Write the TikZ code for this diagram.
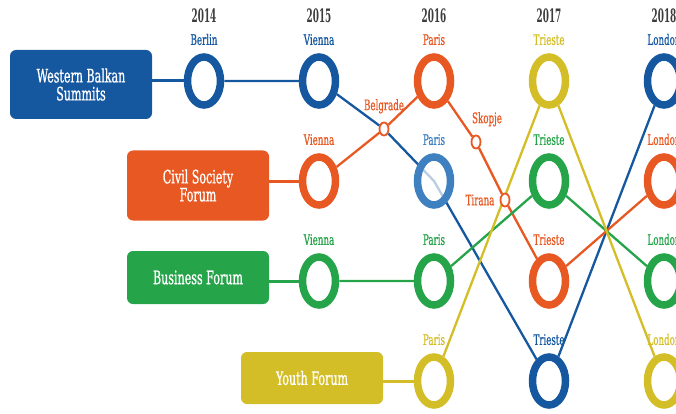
\documentclass[tikz,border=0pt]{standalone}
\usepackage{fontspec}
\setmainfont[FakeStretch=0.6,FakeBold=0.8]{DejaVu Serif}
\newfontfamily\yearfont[FakeStretch=0.48]{DejaVu Serif}
\usepackage{tikz}
\usetikzlibrary{shapes.geometric, positioning, backgrounds}

\definecolor{wbblue}{RGB}{22,88,160}
\definecolor{parblue}{RGB}{62,128,192}
\definecolor{csorange}{RGB}{232,88,34}
\definecolor{bfgreen}{RGB}{38,164,74}
\definecolor{yfyellow}{RGB}{212,190,40}
\definecolor{yeargray}{RGB}{60,60,60}

\begin{document}
\begin{tikzpicture}[x=1pt,y=-1pt,
% Rings and stops style
    ring/.style={ellipse,draw=#1,line width=7.5pt,fill=white,inner sep=0pt,
		minimum width=33pt,minimum height=48pt},
    halt/.style={ellipse,draw=csorange,line width=1.8pt,fill=white,
		inner sep=0pt,minimum width=9pt,minimum height=13pt},
% Label style
    label distance=8pt,
    every label/.style={font=\fontsize{14.5}{15}\selectfont,inner sep=0pt},
% Forum style
    forum/.style={rectangle,rounded corners=6pt,fill=#1,text=white,
		minimum width=142pt,align=center,
		font=\fontsize{18.5}{18}\selectfont},
    year/.style={font=\yearfont\bfseries\fontsize{18.5}{18}\selectfont,
		text=yeargray},
% Track style
    track/.style={line width=2.3pt,draw=#1},
    link/.style={line width=3pt,draw=#1}
    ]
    \useasboundingbox (0,0) rectangle (676,414);
%% Years
    \node [year] (y14) at (204,16) {2014};
    \node [year] (y15) at (319,16) {2015};
    \node [year] (y16) at (434,16) {2016};
    \node [year] (y17) at (549,16) {2017};
    \node [year] (y18) at (664,16) {2018};
%% Forums
    \node [forum=wbblue,minimum height=69pt]   (wbs) at (81,84.5)  {Western Balkan\\Summits};
    \node [forum=csorange,minimum height=70pt] (csf) at (198,185.5) {Civil Society\\Forum};
    \node [forum=bfgreen,minimum height=53pt]  (bf)  at (198,277.5) {Business Forum};
    \node [forum=yfyellow,minimum height=52pt] (yf)  at (312,378)   {Youth Forum};
%% Rings
    \node [ring=wbblue,label={[text=wbblue]90:Berlin}]     (ber14)  at (204,81)  {};
    \node [ring=wbblue,label={[text=wbblue]90:Vienna}]     (vie15b) at (319,81)  {};
    \node [ring=csorange,label={[text=csorange]90:Vienna}] (vie15o) at (319,181) {};
    \node [ring=bfgreen,label={[text=bfgreen]90:Vienna}]   (vie15g) at (319,281) {};
    \node [ring=csorange,label={[text=csorange]90:Paris}]  (par16o) at (434,81)  {};
    \node [ring=parblue,fill opacity=0.7,
	   label={[text=parblue,text opacity=1,fill opacity=1]90:Paris}] (par16b) at (434,181) {};
    \node [ring=bfgreen,label={[text=bfgreen]90:Paris}]    (par16g) at (434,281) {};
    \node [ring=yfyellow,label={[text=yfyellow]90:Paris}]  (par16y) at (434,381) {};
    \node [ring=yfyellow,label={[text=yfyellow]90:Trieste}] (tri17y) at (549,81)  {};
    \node [ring=bfgreen,label={[text=bfgreen]90:Trieste}]   (tri17g) at (549,181) {};
    \node [ring=csorange,label={[text=csorange]90:Trieste}] (tri17o) at (549,281) {};
    \node [ring=wbblue,label={[text=wbblue]90:Trieste}]     (tri17b) at (549,381) {};
    \node [ring=wbblue,label={[text=wbblue]90:London}]     (lon18b) at (664,81)  {};
    \node [ring=csorange,label={[text=csorange]90:London}] (lon18o) at (664,181) {};
    \node [ring=bfgreen,label={[text=bfgreen]90:London}]   (lon18g) at (664,281) {};
    \node [ring=yfyellow,label={[text=yfyellow]90:London}] (lon18y) at (664,381) {};
%% Stops in between
    \node [halt,label={[text=csorange]90:Belgrade}] (bel) at (384,129) {};
    \node [halt,label={[text=csorange,xshift=11pt]90:Skopje}] (sko) at (476,142) {};
    \node [halt,label={[text=csorange,label distance=5pt]180:Tirana}] (tir) at (505,200) {};
%% Tracks
    \begin{scope}[on background layer]
    \draw [link=wbblue]   (wbs.east |- ber14) -- (ber14);
    \draw [link=csorange] (csf.east |- vie15o) -- (vie15o);
    \draw [link=bfgreen]  (bf.east |- vie15g) -- (vie15g);
    \draw [link=yfyellow] (yf.east |- par16y) -- (par16y);
    \draw [track=wbblue]   (ber14) -- (vie15b) -- (bel) -- (par16b.center)
	-- (tri17b) -- (lon18b);
    \draw [track=csorange] (vie15o) -- (bel) -- (par16o) -- (sko) -- (tir)
	-- (tri17o) -- (lon18o);
    \draw [track=bfgreen]  (vie15g) -- (par16g) -- (tri17g) -- (lon18g);
    \draw [track=yfyellow] (par16y) -- (tri17y) -- (lon18y);
    \end{scope}
\end{tikzpicture}
\end{document}
